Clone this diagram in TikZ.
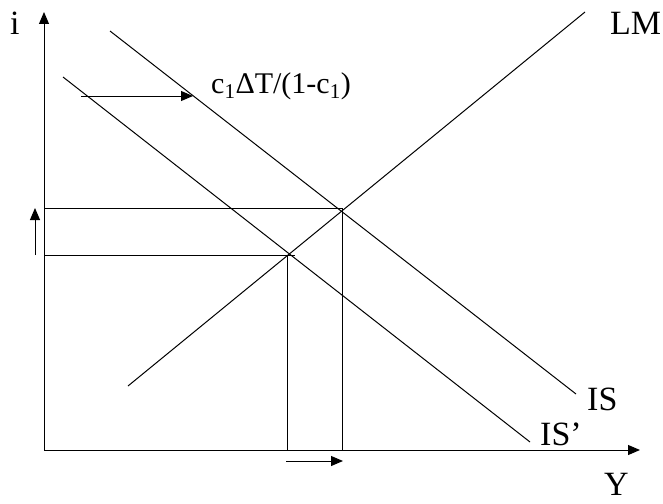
\documentclass[tikz,border=0pt]{standalone}
\usepackage{fontspec}
\setmainfont{Liberation Serif}
\usetikzlibrary{arrows.meta}
\begin{document}
\begin{tikzpicture}[x=1pt,y=-1pt,
  ln/.style={line width=1pt,black},
  arr/.style={line width=1pt,-{Triangle[length=12pt,width=10pt]}},
  lbl/.style={inner sep=0pt,font=\fontsize{34}{34}\selectfont},
  small/.style={inner sep=0pt,font=\fontsize{30}{30}\selectfont}]
\useasboundingbox (0,0) rectangle (663,503);
% axes
\coordinate (O) at (44,450);
\coordinate (ytop) at (44,12);
\coordinate (xend) at (640,450);
\draw[arr] (O) -- (ytop);
\draw[arr] (O) -- (xend);
% curves
\coordinate (lm1) at (128,386);
\coordinate (lm2) at (585,12);
\coordinate (is1) at (110,31);
\coordinate (is2) at (576,394);
\coordinate (isp1) at (63,77);
\coordinate (isp2) at (530,442);
\draw[ln] (lm1) -- (lm2);
\draw[ln] (is1) -- (is2);
\draw[ln] (isp1) -- (isp2);
% equilibrium guides
\coordinate (h1a) at (44,208);
\coordinate (E1) at (342,208);
\coordinate (v1b) at (342,450);
\coordinate (h2a) at (44,255);
\coordinate (h2b) at (295,255);
\coordinate (v2a) at (287,255);
\coordinate (v2b) at (287,450);
\draw[ln] (h1a) -- (E1) -- (v1b);
\draw[ln] (h2a) -- (h2b);
\draw[ln] (v2a) -- (v2b);
% shift arrows
\coordinate (ta) at (81,96);
\coordinate (tb) at (193,96);
\draw[arr] (ta) -- (tb);
\coordinate (ua) at (35,255);
\coordinate (ub) at (35,208);
\draw[arr] (ua) -- (ub);
\coordinate (ba) at (286,461);
\coordinate (bb) at (343,461);
\draw[arr] (ba) -- (bb);
% labels
\node[lbl,anchor=base west] (li) at (10,35) {i};
\node[lbl,anchor=base west] (lLM) at (610,35) {LM};
\node[lbl,anchor=base west] (lIS) at (587,410) {IS};
\node[lbl,anchor=base west] (lISp) at (540,445) {IS’};
\node[lbl,anchor=base west] (lY) at (604,495) {Y};
\node[small,anchor=base west] (lc) at (211,93) {c\textsubscript{1}ΔT/(1-c\textsubscript{1})};
\end{tikzpicture}
\end{document}
